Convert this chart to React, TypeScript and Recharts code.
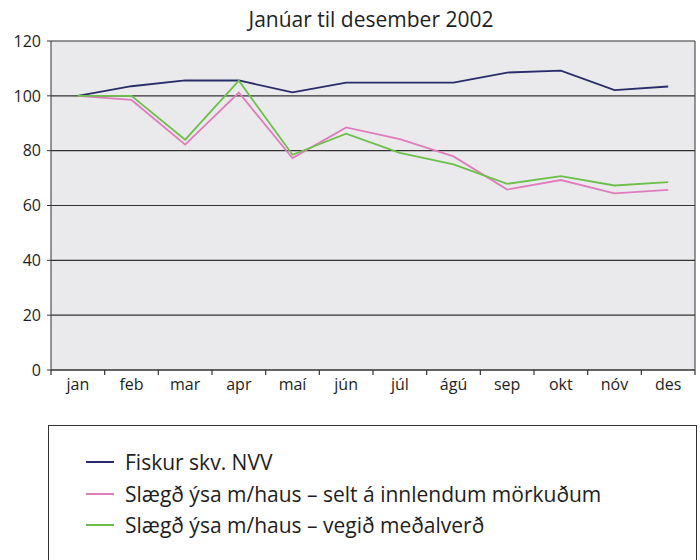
import { LineChart, Line, XAxis, YAxis, CartesianGrid } from 'recharts';

const MONTHS = ['jan', 'feb', 'mar', 'apr', 'maí', 'jún', 'júl', 'ágú', 'sep', 'okt', 'nóv', 'des'];
const FISKUR = [100, 103.5, 105.6, 105.6, 101.3, 104.8, 104.8, 104.8, 108.5, 109.2, 102.1, 103.4];
const YSA_INNLEND = [100, 98.5, 82.2, 101.2, 77.3, 88.5, 84.2, 77.9, 65.8, 69.3, 64.4, 65.7];
const YSA_MEDALVERD = [100, 100, 84, 105.5, 78.5, 86.2, 79.2, 75, 67.9, 70.7, 67.3, 68.5];
const Y_TICKS = [0, 20, 40, 60, 80, 100, 120];

const SERIES = [
  { key: 'fiskur', name: 'Fiskur skv. NVV', color: '#2a2c6a' },
  { key: 'innlend', name: 'Slægð ýsa m/haus – selt á innlendum mörkuðum', color: '#e07cbc' },
  { key: 'medal', name: 'Slægð ýsa m/haus – vegið meðalverð', color: '#6cc04a' },
];

const data = MONTHS.map((m, i) => ({
  i,
  month: m,
  fiskur: FISKUR[i],
  innlend: YSA_INNLEND[i],
  medal: YSA_MEDALVERD[i],
}));

const labelTicks = MONTHS.map((_, i) => i);
const boundaryTicks = [...MONTHS.map((_, i) => i - 0.5), MONTHS.length - 0.5];

const FONT = '"Open Sans", "Noto Sans", sans-serif';

// tick mark only, no label
const BoundTick = (props: any) => {
  const { x, y } = props;
  return <line x1={x} x2={x} y1={y} y2={y + 5} stroke="#333" strokeWidth={1.2} />;
};

export default function App() {
  return (
    <div style={{ position: 'absolute', left: 0, top: 0, width: 700, height: 560, fontFamily: FONT, background: '#fff' }}>
      <div style={{ position: 'absolute', left: 0, top: 5, width: 700, paddingLeft: 42, boxSizing: 'border-box', textAlign: 'center', fontSize: 21, color: '#1e1e1e' }}>
        Janúar til desember 2002
      </div>
      <LineChart width={700} height={560} data={data} margin={{ top: 41, right: 4, left: 0, bottom: 159 }}>
        <CartesianGrid vertical={false} stroke="#333" strokeWidth={1.2} fill="#eaeaed" horizontalValues={Y_TICKS} yAxisId="left" />
        <XAxis
          xAxisId="bounds"
          dataKey="i"
          type="number"
          domain={[-0.5, MONTHS.length - 0.5]}
          ticks={boundaryTicks}
          tick={<BoundTick />}
          tickLine={false}
          tickSize={0}
          tickMargin={0}
          height={1}
          stroke="#333"
          interval={0}
        />
        <XAxis
          xAxisId="labels"
          dataKey="i"
          type="number"
          domain={[-0.5, MONTHS.length - 0.5]}
          ticks={labelTicks}
          tickFormatter={(v) => MONTHS[v]}
          axisLine={false}
          tickLine={false}
          height={30}
          interval={0}
          tick={{ fill: '#1e1e1e', fontSize: 16, fontFamily: FONT }}
          tickMargin={2}
        />
        <YAxis
          yAxisId="left"
          domain={[0, 120]}
          ticks={Y_TICKS}
          width={51}
          stroke="#333"
          tickSize={4}
          tick={{ fill: '#1e1e1e', fontSize: 16, fontFamily: FONT }}
          tickMargin={6}
        />
        <YAxis yAxisId="right" orientation="right" domain={[0, 120]} width={1} tick={false} tickLine={false} stroke="#333" />
        {SERIES.map((s) => (
          <Line
            key={s.key}
            xAxisId="labels"
            yAxisId="left"
            dataKey={s.key}
            name={s.name}
            stroke={s.color}
            strokeWidth={1.8}
            dot={false}
            type="linear"
            isAnimationActive={false}
          />
        ))}
      </LineChart>
      <div
        style={{
          position: 'absolute',
          left: 48,
          top: 425,
          width: 649,
          height: 160,
          border: '1px solid #333',
          boxSizing: 'border-box',
        }}
      >
        {SERIES.map((s, idx) => (
          <div key={s.key} style={{ position: 'absolute', left: 37, top: 22 + idx * 31.5, display: 'flex', alignItems: 'center', height: 28 }}>
            <div style={{ width: 28, height: 2, background: s.color, marginRight: 11 }} />
            <span style={{ fontSize: 21, color: '#1e1e1e', whiteSpace: 'nowrap' }}>{s.name}</span>
          </div>
        ))}
      </div>
    </div>
  );
}
